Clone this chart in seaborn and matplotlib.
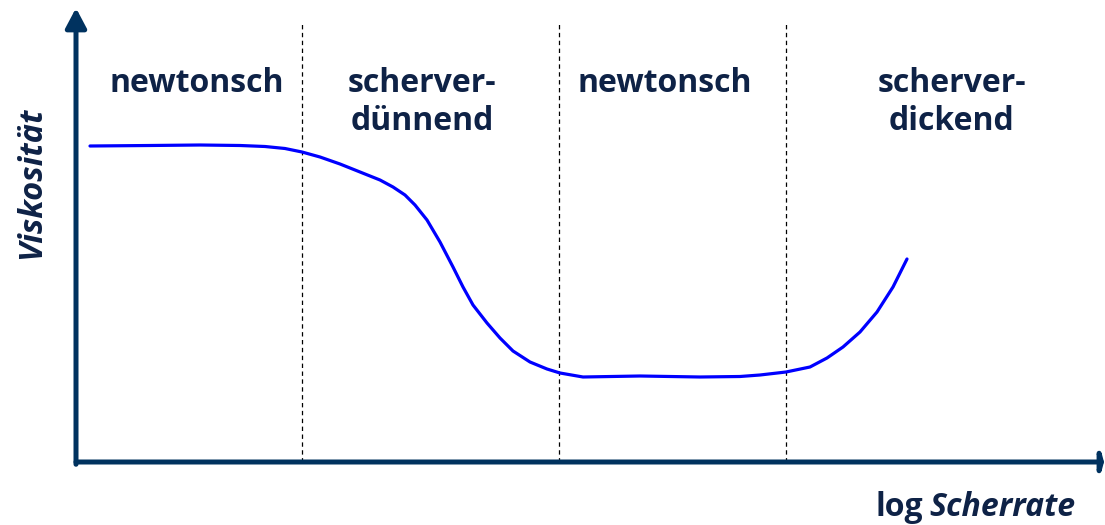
import matplotlib
matplotlib.use("Agg")
import matplotlib.pyplot as plt
import seaborn as sns
import pandas as pd

# ---- data (arbitrary units: log shear rate vs viscosity) ----
log_scherrate = [0.14, 0.74, 1.24, 1.64, 1.89, 2.09, 2.26, 2.44, 2.64, 2.84, 3.04,
                 3.17, 3.29, 3.39, 3.51, 3.64, 3.77, 3.87, 3.97, 4.11, 4.24, 4.37,
                 4.54, 4.71, 4.84, 5.07, 5.64, 6.24, 6.64, 6.84, 7.10, 7.34, 7.51,
                 7.67, 7.84, 8.01, 8.17, 8.31]
viskositaet = [3.16, 3.165, 3.17, 3.165, 3.155, 3.135, 3.10, 3.05, 2.98, 2.90, 2.82,
               2.75, 2.67, 2.57, 2.42, 2.20, 1.95, 1.75, 1.57, 1.39, 1.24, 1.11,
               1.00, 0.93, 0.89, 0.85, 0.86, 0.85, 0.855, 0.87, 0.90, 0.95, 1.04,
               1.15, 1.30, 1.50, 1.75, 2.03]
region_bounds = [2.26, 4.83, 7.10]
region_labels = ["newtonsch", "scherver-\ndünnend", "newtonsch", "scherver-\ndickend"]
region_label_x = [1.21, 3.46, 5.89, 8.76]

navy = "#00325f"
text_col = "#0e2246"

sns.set_style("white")
plt.rcParams["font.family"] = ["Open Sans", "DejaVu Sans"]

fig = plt.figure(figsize=(11.05, 5.25), dpi=100)
ax = fig.add_axes([76 / 1105, 63 / 525, (1104 - 76) / 1105, (525 - 63 - 8) / 525])
ax.set_xlim(0, 10.28)
ax.set_ylim(0, 4.54)
ax.axis("off")

df = pd.DataFrame({"x": log_scherrate, "y": viskositaet})
sns.lineplot(data=df, x="x", y="y", sort=False, color="#0000ff", lw=2.3, ax=ax)
for ln in ax.lines:
    ln.set_solid_joinstyle("round")
    ln.set_solid_capstyle("round")

for b in region_bounds:
    ax.plot([b, b], [0, 4.39], color="black", lw=0.9, linestyle=(0, (3.5, 2.8)),
            zorder=1)

for lbl, xl in zip(region_labels, region_label_x):
    ax.text(xl, 3.95, lbl, ha="center", va="top", fontsize=23, fontweight="bold",
            color=text_col, linespacing=1.22)

# axis arrows
ax.annotate("", xy=(0, 1.0), xytext=(0, -0.005), xycoords="axes fraction",
            arrowprops=dict(arrowstyle="-|>,head_length=0.85,head_width=0.45",
                            lw=3.6, color=navy, shrinkA=0, shrinkB=0,
                            mutation_scale=14))
ax.annotate("", xy=(1.0, 0), xytext=(0, 0), xycoords="axes fraction",
            arrowprops=dict(arrowstyle="-|>,head_length=0.12,head_width=0.45",
                            lw=3.6, color=navy, shrinkA=0, shrinkB=0,
                            mutation_scale=14))

fig.text(32 / 1105, 1 - 183 / 525, "Viskosität", rotation=90, ha="center",
         va="center", fontsize=23.5, fontweight="bold", style="italic", color=text_col)
fig.text(876 / 1105, 1 - 516 / 525, "log", ha="left", va="baseline", fontsize=23,
         fontweight="bold", color=text_col)
fig.text(1075 / 1105, 1 - 516 / 525, "Scherrate", ha="right", va="baseline",
         fontsize=23, fontweight="bold", style="italic", color=text_col)

fig.savefig("out.png", dpi=100)
